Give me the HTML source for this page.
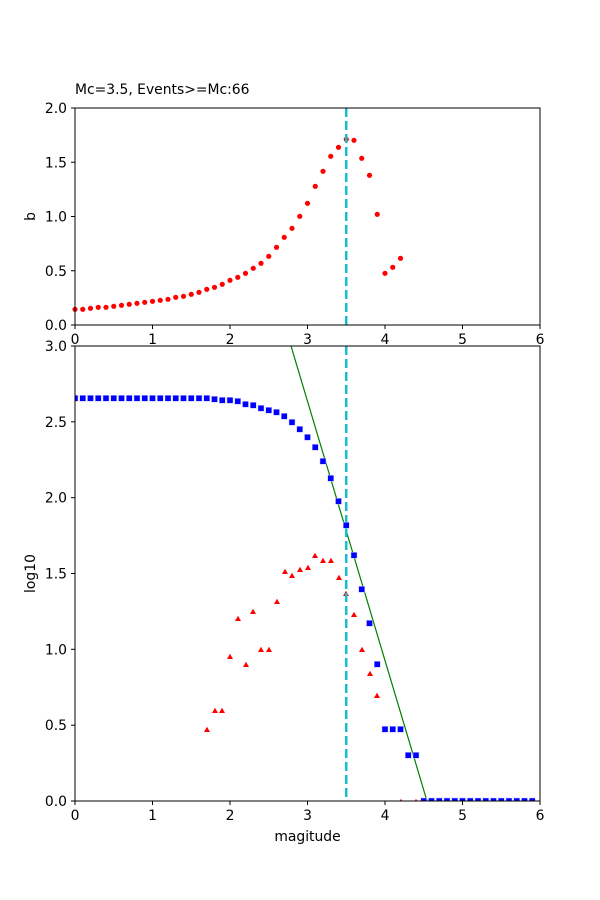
<!DOCTYPE html>
<html><head><meta charset="utf-8"><style>
html,body{margin:0;padding:0;background:#fff}
svg{display:block}
text{font-family:"DejaVu Sans","Liberation Sans",sans-serif;font-size:13.9px;fill:#000}
</style></head><body>
<svg width="600" height="900" viewBox="0 0 600 900" xmlns="http://www.w3.org/2000/svg">
<defs>
<rect id="sq" x="-3" y="-3" width="6" height="6" fill="#0000ff" stroke="#c8c8ff" stroke-width="0.5"/>
<path id="tr" d="M0,-3.2 L3,2 L-3,2Z" fill="#ff0000"/>
<circle id="ci" r="2.6" fill="#ff0000"/>
<clipPath id="cb"><rect x="75" y="346" width="465" height="455"/></clipPath>
</defs>
<text x="75" y="94">Mc=3.5, Events&gt;=Mc:66</text>
<!-- top axes -->
<g fill="#ff0000">
<use href="#ci" x="75" y="309.3"/><use href="#ci" x="82.75" y="309.3"/><use href="#ci" x="90.5" y="308.3"/><use href="#ci" x="98.25" y="307.3"/><use href="#ci" x="106" y="307.3"/><use href="#ci" x="113.75" y="306.3"/><use href="#ci" x="121.5" y="305.3"/><use href="#ci" x="129.25" y="304.3"/><use href="#ci" x="137" y="303.3"/><use href="#ci" x="144.75" y="302.3"/><use href="#ci" x="152.5" y="301.3"/><use href="#ci" x="160.25" y="300.3"/><use href="#ci" x="168" y="299.3"/><use href="#ci" x="175.75" y="297.3"/><use href="#ci" x="183.5" y="296.3"/><use href="#ci" x="191.25" y="294.3"/><use href="#ci" x="199" y="292.3"/><use href="#ci" x="206.75" y="289.3"/><use href="#ci" x="214.5" y="287.3"/><use href="#ci" x="222.25" y="284.3"/><use href="#ci" x="230" y="280.3"/><use href="#ci" x="237.75" y="277.3"/><use href="#ci" x="245.5" y="273.3"/><use href="#ci" x="253.25" y="268.3"/><use href="#ci" x="261" y="263.3"/><use href="#ci" x="268.75" y="256.3"/><use href="#ci" x="276.5" y="247.3"/><use href="#ci" x="284.25" y="237.3"/><use href="#ci" x="292" y="228.3"/><use href="#ci" x="299.75" y="216.3"/><use href="#ci" x="307.5" y="203.3"/><use href="#ci" x="315.25" y="186.3"/><use href="#ci" x="323" y="171.3"/><use href="#ci" x="330.75" y="156.3"/><use href="#ci" x="338.5" y="147.3"/><use href="#ci" x="346.25" y="139.3"/><use href="#ci" x="354" y="140.3"/><use href="#ci" x="361.75" y="158.3"/><use href="#ci" x="369.5" y="175.3"/><use href="#ci" x="377.25" y="214.3"/><use href="#ci" x="385" y="273.3"/><use href="#ci" x="392.75" y="267.3"/><use href="#ci" x="400.5" y="258.3"/>
</g>
<line x1="346.25" y1="108" x2="346.25" y2="325" stroke="#17becf" stroke-width="2.5" stroke-dasharray="9,4"/>
<rect x="75" y="108" width="465" height="217" fill="none" stroke="#000" stroke-width="1"/>
<g stroke="#000" stroke-width="1">
<line x1="75" y1="325" x2="75" y2="329"/><line x1="152.5" y1="325" x2="152.5" y2="329"/><line x1="230" y1="325" x2="230" y2="329"/><line x1="307.5" y1="325" x2="307.5" y2="329"/><line x1="385" y1="325" x2="385" y2="329"/><line x1="462.5" y1="325" x2="462.5" y2="329"/><line x1="540" y1="325" x2="540" y2="329"/>
<line x1="71" y1="325" x2="75" y2="325"/><line x1="71" y1="270.75" x2="75" y2="270.75"/><line x1="71" y1="216.5" x2="75" y2="216.5"/><line x1="71" y1="162.25" x2="75" y2="162.25"/><line x1="71" y1="108" x2="75" y2="108"/>
</g>
<g text-anchor="middle">
<text x="75" y="344">0</text><text x="152.5" y="344">1</text><text x="230" y="344">2</text><text x="307.5" y="344">3</text><text x="385" y="344">4</text><text x="462.5" y="344">5</text><text x="540" y="344">6</text>
</g>
<g text-anchor="end">
<text x="67" y="330">0.0</text><text x="67" y="275.8">0.5</text><text x="67" y="221.5">1.0</text><text x="67" y="167.3">1.5</text><text x="67" y="113">2.0</text>
</g>
<text x="35" y="216.5" text-anchor="middle" transform="rotate(-90 35 216.5)">b</text>
<!-- bottom axes -->
<rect x="75" y="346" width="465" height="455" fill="#fff"/>
<g clip-path="url(#cb)">
<line x1="291" y1="346" x2="427" y2="801" stroke="#008000" stroke-width="1.2"/>
<g>
<use href="#tr" x="207" y="730"/><use href="#tr" x="215" y="711"/><use href="#tr" x="222" y="711"/><use href="#tr" x="230" y="657"/><use href="#tr" x="238" y="619"/><use href="#tr" x="246" y="665"/><use href="#tr" x="253" y="612"/><use href="#tr" x="261" y="650"/><use href="#tr" x="269" y="650"/><use href="#tr" x="277" y="602"/><use href="#tr" x="285" y="572"/><use href="#tr" x="292" y="576"/><use href="#tr" x="300" y="570"/><use href="#tr" x="308" y="568"/><use href="#tr" x="315" y="556"/><use href="#tr" x="323" y="561"/><use href="#tr" x="331" y="561"/><use href="#tr" x="339" y="578"/><use href="#tr" x="346" y="594"/><use href="#tr" x="354" y="615"/><use href="#tr" x="362" y="650"/><use href="#tr" x="370" y="674"/><use href="#tr" x="377" y="696"/><use href="#tr" x="401" y="802"/><use href="#tr" x="416" y="802"/>
</g>
<line x1="346.25" y1="346" x2="346.25" y2="801" stroke="#17becf" stroke-width="2.5" stroke-dasharray="9,4"/>
<g>
<use href="#sq" x="75" y="398.3"/><use href="#sq" x="82.75" y="398.3"/><use href="#sq" x="90.5" y="398.3"/><use href="#sq" x="98.25" y="398.3"/><use href="#sq" x="106" y="398.3"/><use href="#sq" x="113.75" y="398.3"/><use href="#sq" x="121.5" y="398.3"/><use href="#sq" x="129.25" y="398.3"/><use href="#sq" x="137" y="398.3"/><use href="#sq" x="144.75" y="398.3"/><use href="#sq" x="152.5" y="398.3"/><use href="#sq" x="160.25" y="398.3"/><use href="#sq" x="168" y="398.3"/><use href="#sq" x="175.75" y="398.3"/><use href="#sq" x="183.5" y="398.3"/><use href="#sq" x="191.25" y="398.3"/><use href="#sq" x="199" y="398.3"/><use href="#sq" x="206.75" y="398.3"/><use href="#sq" x="214.5" y="399.3"/><use href="#sq" x="222.25" y="400.3"/><use href="#sq" x="230" y="400.3"/><use href="#sq" x="237.75" y="401.3"/><use href="#sq" x="245.5" y="404.3"/><use href="#sq" x="253.25" y="405.3"/><use href="#sq" x="261" y="408.3"/><use href="#sq" x="268.75" y="410.3"/><use href="#sq" x="276.5" y="412.3"/><use href="#sq" x="284.25" y="416.3"/><use href="#sq" x="292" y="422.3"/><use href="#sq" x="299.75" y="429.3"/><use href="#sq" x="307.5" y="437.3"/><use href="#sq" x="315.25" y="447.3"/><use href="#sq" x="323" y="461.3"/><use href="#sq" x="330.75" y="478.3"/><use href="#sq" x="338.5" y="501.3"/><use href="#sq" x="346.25" y="525.3"/><use href="#sq" x="354" y="555.3"/><use href="#sq" x="361.75" y="589.3"/><use href="#sq" x="369.5" y="623.3"/><use href="#sq" x="377.25" y="664.3"/><use href="#sq" x="385" y="729.3"/><use href="#sq" x="392.75" y="729.3"/><use href="#sq" x="400.5" y="729.3"/><use href="#sq" x="408.25" y="755.3"/><use href="#sq" x="416" y="755.3"/>
<use href="#sq" x="423.75" y="801"/><use href="#sq" x="431.5" y="801"/><use href="#sq" x="439.25" y="801"/><use href="#sq" x="447" y="801"/><use href="#sq" x="454.75" y="801"/><use href="#sq" x="462.5" y="801"/><use href="#sq" x="470.25" y="801"/><use href="#sq" x="478" y="801"/><use href="#sq" x="485.75" y="801"/><use href="#sq" x="493.5" y="801"/><use href="#sq" x="501.25" y="801"/><use href="#sq" x="509" y="801"/><use href="#sq" x="516.75" y="801"/><use href="#sq" x="524.5" y="801"/><use href="#sq" x="532.25" y="801"/>
</g>
</g>
<rect x="75" y="346" width="465" height="455" fill="none" stroke="#000" stroke-width="1"/>
<g stroke="#000" stroke-width="1">
<line x1="75" y1="801" x2="75" y2="805"/><line x1="152.5" y1="801" x2="152.5" y2="805"/><line x1="230" y1="801" x2="230" y2="805"/><line x1="307.5" y1="801" x2="307.5" y2="805"/><line x1="385" y1="801" x2="385" y2="805"/><line x1="462.5" y1="801" x2="462.5" y2="805"/><line x1="540" y1="801" x2="540" y2="805"/>
<line x1="71" y1="801" x2="75" y2="801"/><line x1="71" y1="725.2" x2="75" y2="725.2"/><line x1="71" y1="649.3" x2="75" y2="649.3"/><line x1="71" y1="573.5" x2="75" y2="573.5"/><line x1="71" y1="497.7" x2="75" y2="497.7"/><line x1="71" y1="421.8" x2="75" y2="421.8"/><line x1="71" y1="346" x2="75" y2="346"/>
</g>
<g text-anchor="middle">
<text x="75" y="820">0</text><text x="152.5" y="820">1</text><text x="230" y="820">2</text><text x="307.5" y="820">3</text><text x="385" y="820">4</text><text x="462.5" y="820">5</text><text x="540" y="820">6</text>
</g>
<g text-anchor="end">
<text x="67" y="806">0.0</text><text x="67" y="730.2">0.5</text><text x="67" y="654.3">1.0</text><text x="67" y="578.5">1.5</text><text x="67" y="502.7">2.0</text><text x="67" y="426.8">2.5</text><text x="67" y="351">3.0</text>
</g>
<text x="307.5" y="841" text-anchor="middle">magitude</text>
<text x="35" y="573.5" text-anchor="middle" transform="rotate(-90 35 573.5)">log10</text>
</svg>
</body></html>
